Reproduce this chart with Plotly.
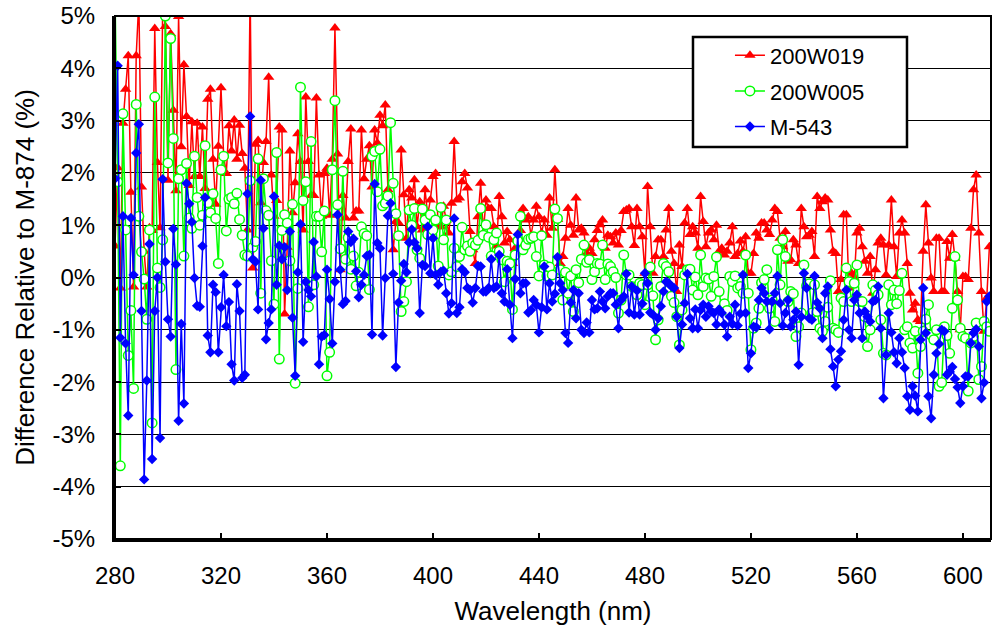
import plotly.graph_objects as go

start_nm = 280

r200W019 = [
    0.6, 2.1, -0.2, 2.95, 3.6, 4.24, 1.63, -0.18, 4.24, 5.3,
    1.73, 0.5, -0.18, 0.95, 0.9, 4.76, 2.2, 0.95, 5.2, 4.8,
    1.86, 4.66, 3.2, 1.66, 4.99, 2.5, 4.07, 3.08, 1.76, 2.98,
    1.93, 2.95, 1.93, 2.88, 1.7, 3.41, 3.6, 2.26, 1.4, 2.51,
    3.63, 2.33, 1.99, 2.9, 2.42, 3.01, 2.26, 2.91, 2.37, 2.09,
    0.91, 5.5, 0.18, 2.55, 2.62, 1.43, 2.2, 2.6, 3.83, 1.96,
    1.17, 1.47, 2.88, 2.82, -0.7, 0.58, 2.42, 1.24, 1.81, 2.75,
    2.22, 0.91, 3.45, 2.22, 1.57, 1.57, 3.43, 1.96, 1.17, 1.99,
    2.09, 1.19, 2.26, 4.77, 2.36, 0.15, 1.57, 1.14, 2.22, 2.84,
    1.14, 1.27, 1.27, 2.82, 1.89, 2.26, 2.52, 1.73, 2.82, 2.57,
    3.1, 2.9, 3.3, 1.68, 1.2, 0.53, 1.07, 1.04, 2.44, 1.58,
    0.75, 1.68, 1.52, 1.87, 0.97, 1.45, 0.91, 1.68, 1.2, 1.48,
    1.93, 1.99, 0.97, 0.97, 1.36, 1.1, 0.85, 1.42, 2.6, 1.48,
    1.52, 1.83, 1.99, 1.71, 0.88, 0.53, 0.27, 1.16, 1.8, 0.85,
    1.48, 1.32, 1.32, 0.97, 0.6, 1.55, 1.16, 0.66, 0.88, 0.72,
    0.27, 0.56, 0.72, 0.9, 1.32, 1.1, 1.16, 0.8, 1.1, 1.36,
    1.16, 0.85, 1.1, 0.81, 1.52, 0.94, 2.06, 1.11, 0.27, 0.4,
    0.75, 1.32, 1.0, 0.81, 1.52, 0.91, 0.94, 0.85, 0.46, 0.56,
    0.46, 0.72, 0.9, 1.01, 1.1, 0.56, 0.81, 0.78, 0.66, 0.85,
    0.62, 0.9, 1.26, 1.29, 1.32, 0.97, 0.61, 1.32, 0.97, 0.78,
    0.08, 1.74, 0.97, 0.08, 0.4, 0.72, 0.72, 0.4, 0.91, 1.32,
    0.5, 0.27, -0.27, 0.62, 0.21, 1.04, 1.32, 0.82, 0.97, 0.85,
    0.56, 1.55, 1.07, 0.59, 0.85, 0.91, 0.72, 1.0, 0.5, 0.56,
    0.43, 0.5, 0.66, 0.97, 0.4, 0.46, 0.7, 0.5, 0.78, 0.08,
    0.08, 0.46, 0.85, 0.75, 1.04, 1.04, 0.91, 0.82, 1.1, 1.32,
    1.26, 0.75, 0.59, 0.88, 0.31, 0.34, 0.72, 0.62, 0.27, 1.32,
    0.97, 0.78, 0.81, 0.88, 0.4, 1.55, 1.32, 1.45, 1.52, 1.48,
    0.91, 0.5, 0.46, -0.27, -0.04, 1.2, 1.2, -0.2, 0.08, -0.01,
    0.85, 0.94, 0.59, 0.31, 0.08, 0.4, -0.3, 0.15, 0.66, 0.75,
    0.62, 0.05, 0.62, 1.48, 0.59, 0.02, 0.85, 1.1, 0.85, 0.27,
    -0.3, -0.62, -0.49, -0.81, -0.84, 0.5, 1.39, 0.66, -0.01, -0.27,
    0.75, 0.75, -0.27, -0.27, 0.69, 0.37, 0.82, 0.37, -0.27, -1.0,
    0.02, 0.02, -0.04, 0.94, 1.68, 1.96, 0.85, -0.27, -1.03, -0.39,
    0.59,
]

r200W005 = [
    5.5, 1.83, -3.6, 3.13, 0.91, -1.49, -0.63, -2.12, 3.31, 1.17,
    0.49, -0.03, -0.8, 0.91, -2.78, 3.45, 0.18, -0.19, 0.72, 5.0,
    2.19, 4.57, 2.66, -1.76, 1.89, 2.06, 0.41, 2.18, 1.14, 0.94,
    2.32, 1.53, 1.0, 1.19, 2.52, 1.43, 1.24, 1.6, 1.13, 0.27,
    2.06, 2.32, 0.89, 1.5, 1.53, 1.41, 1.61, 1.11, 0.81, 0.43,
    0.41, 1.85, 0.58, 0.69, 2.27, -0.3, 1.89, 1.28, 1.19, 0.32,
    -0.51, 2.39, -1.56, 0.9, 1.2, 1.04, 0.32, 1.4, -2.02, -0.21,
    3.64, 1.47, 1.83, -0.56, 2.6, -0.14, 1.17, 1.17, 0.49, 1.27,
    -1.88, -1.43, 2.06, 3.38, 1.39, 0.55, 2.03, 0.35, 0.76, 0.16,
    0.41, -0.16, 0.1, 0.97, 0.84, 0.8, -0.23, 2.32, 2.41, 1.64,
    2.45, 1.37, 1.42, 1.56, 2.96, 1.8, 1.22, 0.8, -0.65, -0.46,
    -0.08, 1.29, 1.0, 1.32, 0.53, 0.37, 1.31, 1.1, 0.82, 1.2,
    0.91, 1.1, 0.22, 1.34, 0.72, 1.1, 0.05, 0.11, 0.56, 0.21,
    0.4, 0.96, 0.53, 0.6, 0.5, 0.66, 0.62, 0.71, 1.32, 0.81,
    1.01, 0.77, 0.41, 0.72, 0.85, 0.5, 0.34, -0.08, 0.31, 0.27,
    -0.61, 0.43, 0.7, 1.17, 0.53, 0.62, 0.73, 0.75, 0.78, 0.4,
    0.03, 0.8, 0.24, 0.03, 0.2, 0.05, 1.31, 1.13, 0.15, -0.43,
    0.1, -0.3, 0.03, -0.65, 0.15, -0.1, 0.35, 0.62, 0.29, 0.34,
    -0.04, 0.11, 0.27, 0.26, 0.62, -0.04, 0.26, 0.21, 0.11, 0.0,
    -0.68, -0.43, 0.43, 0.05, 0.05, -0.17, -0.2, -0.33, -0.11, -0.14,
    -0.52, -0.14, 0.2, -0.35, -1.19, -0.81, -0.17, 0.27, 0.21, 0.11,
    -0.36, -0.48, -0.75, -1.29, -0.62, 0.05, 0.15, 0.16, -0.24, 0.01,
    -0.33, 0.43, -0.17, -0.01, -0.03, -0.36, 0.02, 0.39, -0.27, -0.61,
    -0.5, -0.63, 0.02, -0.08, 0.03, -0.2, -0.17, -0.3, 0.43, -0.3,
    -1.38, -0.97, -0.87, -0.59, -0.1, -0.04, 0.15, -0.59, -0.43, -0.84,
    0.53, -0.14, 0.72, 0.4, -0.46, -0.27, -0.31, -1.13, -0.94, -0.68,
    0.24, -0.16, -0.12, -0.68, -0.14, -0.65, -0.97, -1.03, -0.84, -0.57,
    -0.06, -0.97, -1.0, -1.05, -0.39, -0.46, 0.18, -0.08, -0.46, -0.11,
    0.24, -0.46, -0.46, -0.75, -1.32, -1.0, -0.14, -0.24, -0.33, -0.81,
    -1.45, -1.48, -0.14, -0.52, -0.24, -0.5, -0.25, 0.08, -1.0, -0.94,
    -1.25, -1.35, -1.03, -1.83, -1.32, -1.03, -0.8, -0.52, -1.1, -1.19,
    -1.0, -2.08, -2.01, -0.94, -1.11, -1.45, -0.59, 0.4, -0.43, -0.97,
    -1.13, -1.16, -2.17, -1.25, -1.13, -0.87, -1.95, -1.7, -0.84, -0.94,
    -1.03,
]

rM543 = [
    1.89, 4.05, -1.15, 1.17, -1.26, -2.64, 1.14, 0.05, 2.38, 2.93,
    -0.64, -3.86, -1.97, 0.64, -3.47, -0.64, 0.0, -3.07, 1.88, 0.3,
    -0.8, -1.13, 0.93, 0.25, -2.74, -0.89, -2.41, 1.8, 1.41, 1.06,
    -0.01, -0.54, -0.56, 0.6, 1.53, -1.11, -1.43, -0.14, -0.28, -1.43,
    -0.57, 0.05, -0.93, -0.47, -1.66, -1.97, -0.13, -0.64, -1.92, -1.86,
    1.6, 3.08, 0.35, 0.3, -0.61, 1.86, 0.94, -1.18, -0.87, -0.61,
    1.55, -0.14, 0.61, 0.35, 0.58, -0.24, 0.88, -0.77, -1.88, 0.1,
    1.02, -1.23, -0.08, -0.24, -0.36, 0.68, 0.02, -1.66, -1.13, -1.1,
    0.15, -0.41, -1.26, -0.08, 1.2, 0.15, -0.51, -0.45, 0.88, 0.68,
    0.74, 0.12, -0.38, -0.14, 0.05, 0.41, 0.43, -1.09, 1.79, 0.66,
    0.56, -1.11, -0.01, 1.18, 1.42, 0.07, -1.71, -0.48, -0.06, 0.26,
    0.1, 0.67, 0.92, 0.67, 0.56, -0.68, 0.24, 0.22, 0.97, 0.08,
    0.75, 0.05, -0.14, 0.11, 0.13, -0.3, -0.69, -0.49, 1.13, -0.68,
    -0.57, 0.16, 0.1, -0.2, -0.24, -0.48, -0.2, 0.22, 0.21, -0.27,
    -0.27, -0.2, 0.35, -0.2, -0.17, 0.43, -0.3, -0.46, 0.16, -0.52,
    -1.16, -0.03, 0.82, -0.3, -0.11, -0.11, -0.67, -0.62, -0.43, -0.52,
    -1.05, -0.57, 0.21, -0.61, -0.11, -0.46, -0.31, 0.39, -0.11, -0.24,
    -1.06, -1.25, -0.48, -0.24, -0.78, -0.3, -1.0, -1.06, -0.86, -1.05,
    -0.43, -0.61, -0.59, -0.27, -0.46, -0.59, -0.36, -0.3, -0.3, -0.52,
    -0.97, -0.43, -0.36, 0.07, -0.67, -0.17, -0.71, -0.25, -0.71, -0.5,
    0.08, -0.11, -0.67, -0.71, -1.0, -0.78, -0.55, -0.27, -0.08, -0.11,
    -0.17, -0.2, -0.75, -1.35, -0.9, -0.49, 0.07, -0.78, -0.97, -0.61,
    -0.97, -0.62, -0.52, -0.75, -0.55, -0.65, -0.68, -0.9, -0.61, -0.68,
    -0.9, -1.13, -0.75, -0.89, -0.52, -0.92, -0.69, 0.05, -0.68, -1.73,
    -1.45, -0.94, -0.95, -0.43, -0.2, -0.3, -0.46, -0.99, -0.46, -0.3,
    0.03, -0.49, -0.92, -0.68, -0.43, -0.94, -0.81, -0.65, -1.67, -0.75,
    0.08, -0.2, -0.78, -0.81, 0.03, -0.48, -0.59, -1.16, -0.3, -0.17,
    -1.37, -1.7, -2.08, -1.57, -1.41, -0.81, -0.24, -1.0, -1.16, -0.43,
    -0.33, -0.68, -1.16, -0.65, -0.75, -0.84, -0.46, -0.43, -0.17, -0.97,
    -2.31, -1.48, -0.68, -1.05, -1.43, -1.64, -1.16, -1.43, -1.73, -2.27,
    -2.53, -2.08, -2.26, -2.56, -1.19, -0.2, -1.06, -2.27, -2.69, -1.86,
    -1.45, -1.27, -1.0, -1.03, -1.86, -1.8, -1.71, -1.94, -2.1, -2.4,
    -2.08, -1.89, -1.89, -1.25, -1.06, -0.99, -1.32, -2.31, -2.01, -0.46,
    -0.36,
]

series_names = ["200W019", "200W005", "M-543"]
x_tick_vals = [280, 320, 360, 400, 440, 480, 520, 560, 600]
y_tick_vals = [5, 4, 3, 2, 1, 0, -1, -2, -3, -4, -5]
y_tick_text = ["5%", "4%", "3%", "2%", "1%", "0%", "-1%", "-2%", "-3%", "-4%", "-5%"]


def wl(vals):
    return list(range(start_nm, start_nm + len(vals)))


FONT = "Arial, Liberation Sans, sans-serif"

fig = go.Figure()
fig.add_trace(go.Scatter(
    x=wl(r200W019), y=r200W019, name=series_names[0], mode="lines+markers",
    line=dict(color="#FF0000", width=1.5),
    marker=dict(symbol="triangle-up", size=10, color="#FF0000"),
    legendgroup="a",
))
fig.add_trace(go.Scatter(
    x=wl(r200W005), y=r200W005, name=series_names[1], mode="lines+markers",
    line=dict(color="#00FF00", width=1.5),
    marker=dict(symbol="circle", size=9.5, color="white",
                line=dict(color="#00FF00", width=1.5)),
    legendgroup="b",
))
fig.add_trace(go.Scatter(
    x=wl(rM543), y=rM543, name=series_names[2], mode="lines+markers",
    line=dict(color="#0000FF", width=1.5),
    marker=dict(symbol="diamond", size=8, color="#0000FF"),
    legendgroup="c",
))

# plot frame (top/right) and legend box
fig.add_shape(type="rect", xref="paper", yref="paper", x0=0, x1=1, y0=0, y1=1,
              line=dict(color="black", width=2), layer="above")
fig.add_shape(type="rect", xref="paper", yref="paper",
              x0=0.6598, x1=0.9041, y0=0.7495, y1=0.9598,
              line=dict(color="black", width=2.5), fillcolor="white", layer="above")

fig.update_layout(
    width=992, height=632,
    margin=dict(l=115, r=1, t=16, b=93, autoexpand=False),
    paper_bgcolor="white", plot_bgcolor="white",
    font=dict(family=FONT, color="black", size=24),
    showlegend=True,
    legend=dict(
        x=0.702, y=0.9645, xanchor="left", yanchor="top",
        bgcolor="rgba(0,0,0,0)", borderwidth=0,
        font=dict(family=FONT, size=22, color="black"),
        tracegroupgap=4, traceorder="grouped",
    ),
    xaxis=dict(
        range=[280, 610.6], tickvals=x_tick_vals, ticks="inside", ticklen=6,
        tickwidth=2, tickcolor="black", showline=True, linewidth=3,
        linecolor="black", showgrid=False, zeroline=False, automargin=False,
        tickfont=dict(size=24), ticklabelstandoff=13,
        title=dict(text="Wavelength (nm)", font=dict(size=26), standoff=15),
    ),
    yaxis=dict(
        range=[-5, 5], tickvals=y_tick_vals, ticktext=y_tick_text,
        ticks="inside", ticklen=6, tickwidth=2, tickcolor="black",
        showline=True, linewidth=3, linecolor="black", automargin=False,
        showgrid=True, gridcolor="black", gridwidth=1, zeroline=False,
        tickfont=dict(size=24), ticklabelstandoff=12,
        title=dict(text="Difference Relative to M-874 (%)", font=dict(size=26), standoff=11),
    ),
)

# remove the default 8px page margin so the figure sits at the window corner
fig.write_html("out.html", config={"displayModeBar": False},
               post_script="document.body.style.margin='0';")
